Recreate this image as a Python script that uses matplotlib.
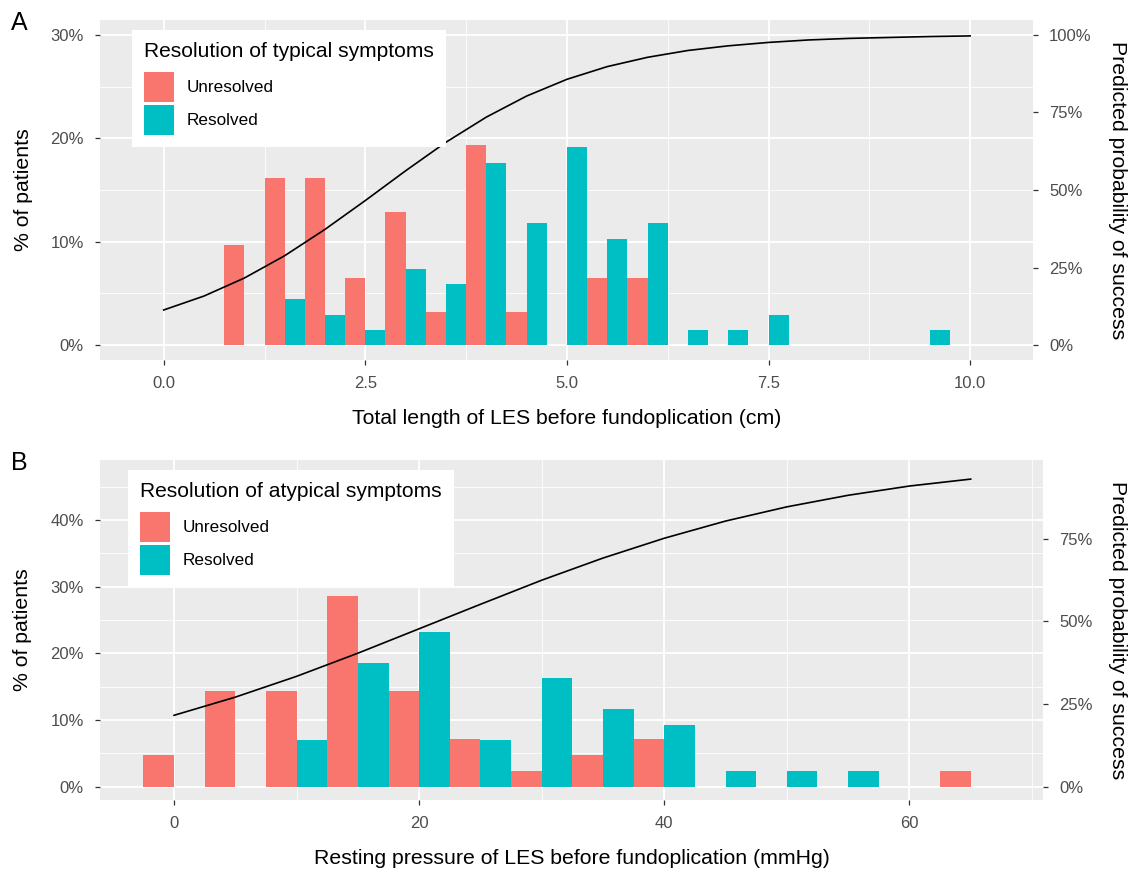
import matplotlib
matplotlib.use("Agg")
import matplotlib.pyplot as plt
from matplotlib.patches import Patch
from matplotlib.ticker import MultipleLocator, FuncFormatter

plt.rcParams['font.family'] = ['Liberation Sans', 'DejaVu Sans']

# --- data ---
# Panel A: total LES length (cm), bins of 0.5 cm, % of patients per group
bins_a = [1.0, 1.5, 2.0, 2.5, 3.0, 3.5, 4.0, 4.5, 5.0,
          5.5, 6.0, 6.5, 7.0, 7.5, 8.0, 8.5, 9.0, 9.5]
unresolved_a = [9.68, 16.13, 16.13, 6.45, 12.90, 3.23, 19.35, 3.23, 0,
                6.45, 6.45, 0, 0, 0, 0, 0, 0, 0]
resolved_a = [0, 4.41, 2.94, 1.47, 7.35, 5.88, 17.65, 11.76, 19.12,
              10.29, 11.76, 1.47, 1.47, 2.94, 0, 0, 0, 1.47]
curve_x_a = [0.0, 0.5, 1.0, 1.5, 2.0, 2.5, 3.0, 3.5, 4.0, 4.5, 5.0,
             5.5, 6.0, 6.5, 7.0, 7.5, 8.0, 8.5, 9.0, 9.5, 10.0]
curve_p_a = [11.3, 15.8, 21.6, 28.8, 37.3, 46.6, 56.2, 65.4, 73.5, 80.3, 85.7,
             89.8, 92.8, 95.0, 96.5, 97.6, 98.4, 98.9, 99.2, 99.5, 99.7]

# Panel B: resting LES pressure (mmHg), bins of 5 mmHg
bins_b = [0, 5, 10, 15, 20, 25, 30, 35, 40, 45, 50, 55, 60, 65]
unresolved_b = [4.76, 14.29, 14.29, 28.57, 14.29, 7.14, 2.38, 4.76, 7.14,
                0, 0, 0, 0, 2.38]
resolved_b = [0, 0, 6.98, 18.60, 23.26, 6.98, 16.28, 11.63, 9.30,
              2.33, 2.33, 2.33, 0, 0]
curve_x_b = [0, 5, 10, 15, 20, 25, 30, 35, 40, 45, 50, 55, 60, 65]
curve_p_b = [21.6, 27.1, 33.4, 40.4, 47.8, 55.2, 62.5, 69.2, 75.2,
             80.4, 84.7, 88.2, 91.0, 93.1]

RED = '#F8766D'
CYAN = '#00BFC4'
W, H = 1133, 869
TITLE_FS = 15.3
TICK_FS = 12


def draw_panel(rect, bins, unres, res, bw, cx, cp, xlim, ylim, sec_scale,
               xmajor, xminor, ymajor, yright, xfmt, xlabel, legend_title,
               legend_x, xlabel_y):
    ax = fig.add_axes(rect)
    ax.set_facecolor('#EBEBEB')
    for s in ax.spines.values():
        s.set_visible(False)
    ax.bar(bins, unres, width=-bw / 2, align='edge', color=RED, zorder=2)
    ax.bar(bins, res, width=bw / 2, align='edge', color=CYAN, zorder=2)
    ax.set_xlim(*xlim)
    ax.set_ylim(*ylim)
    ax.xaxis.set_major_locator(MultipleLocator(xmajor))
    ax.xaxis.set_minor_locator(MultipleLocator(xminor))
    ax.yaxis.set_major_locator(MultipleLocator(ymajor))
    ax.yaxis.set_minor_locator(MultipleLocator(ymajor / 2))
    ax.xaxis.set_major_formatter(FuncFormatter(xfmt))
    ax.yaxis.set_major_formatter(FuncFormatter(lambda v, _: f"{v:.0f}%"))
    ax.grid(which='major', color='white', linewidth=1.3, zorder=0)
    ax.grid(which='minor', color='white', linewidth=0.6, zorder=0)
    ax.set_axisbelow(True)
    ax.tick_params(which='major', color='#333333', length=3.6, width=0.9,
                   labelcolor='#4D4D4D', labelsize=TICK_FS, pad=8)
    ax.tick_params(which='minor', length=0)
    ax.set_xlabel(xlabel, fontsize=TITLE_FS, color='black')
    ax.xaxis.set_label_coords(0.5, xlabel_y)
    ax.set_ylabel('% of patients', fontsize=TITLE_FS, color='black')
    ax.yaxis.set_label_coords(-0.072, 0.5)

    ax2 = ax.twinx()
    for s in ax2.spines.values():
        s.set_visible(False)
    ax2.plot(cx, cp, color='black', linewidth=1.2)
    ax2.set_ylim(ylim[0] * sec_scale, ylim[1] * sec_scale)
    ax2.yaxis.set_major_locator(MultipleLocator(yright))
    ax2.yaxis.set_major_formatter(FuncFormatter(lambda v, _: f"{v:.0f}%"))
    ax2.tick_params(color='#333333', length=3.6, width=0.9,
                    labelcolor='#4D4D4D', labelsize=TICK_FS, pad=8)

    handles = [Patch(facecolor=RED, label='Unresolved'),
               Patch(facecolor=CYAN, label='Resolved')]
    leg = ax2.legend(handles=handles, title=legend_title, loc='upper left',
                     bbox_to_anchor=(legend_x, 0.9706), borderaxespad=0,
                     fontsize=12.3, title_fontsize=15.1, alignment='left',
                     frameon=True, fancybox=False, framealpha=1,
                     facecolor='white', edgecolor='none',
                     handlelength=1.75, handleheight=2.32, labelspacing=0.17,
                     handletextpad=0.75, borderpad=0.72)
    # a bit more room between the legend title and the keys
    leg._legend_box.sep = 7.6
    leg.set_zorder(5)
    return ax, ax2


fig = plt.figure(figsize=(W / 100, H / 100), dpi=100)

# panel A: 100..1033 px wide, 20..360 px tall
draw_panel([100 / W, (H - 360) / H, 933 / W, 340 / H],
           bins_a, unresolved_a, resolved_a, 0.5, curve_x_a, curve_p_a,
           (-0.79, 10.78), (-1.45, 31.45), 10 / 3,
           2.5, 1.25, 10, 25, lambda v, _: f"{v:.1f}",
           'Total length of LES before fundoplication (cm)',
           'Resolution of typical symptoms', 0.034, -0.143)

# panel B: 100..1043 px wide, 460..800 px tall
draw_panel([100 / W, (H - 800) / H, 943 / W, 340 / H],
           bins_b, unresolved_b, resolved_b, 5, curve_x_b, curve_p_b,
           (-6.04, 70.9), (-2.0, 49.0), 2.018,
           20, 10, 10, 25, lambda v, _: f"{v:.0f}",
           'Resting pressure of LES before fundoplication (mmHg)',
           'Resolution of atypical symptoms', 0.0297, -0.143)

fig.text(1117 / W, 1 - 190 / H, 'Predicted probability of success',
         rotation=270, ha='center', va='center', fontsize=TITLE_FS)
fig.text(1117 / W, 1 - 630 / H, 'Predicted probability of success',
         rotation=270, ha='center', va='center', fontsize=TITLE_FS)
fig.text(11 / W, 1 - 11 / H, 'A', ha='left', va='top', fontsize=18)
fig.text(11 / W, 1 - 451 / H, 'B', ha='left', va='top', fontsize=18)

fig.savefig('out.png', dpi=100)
